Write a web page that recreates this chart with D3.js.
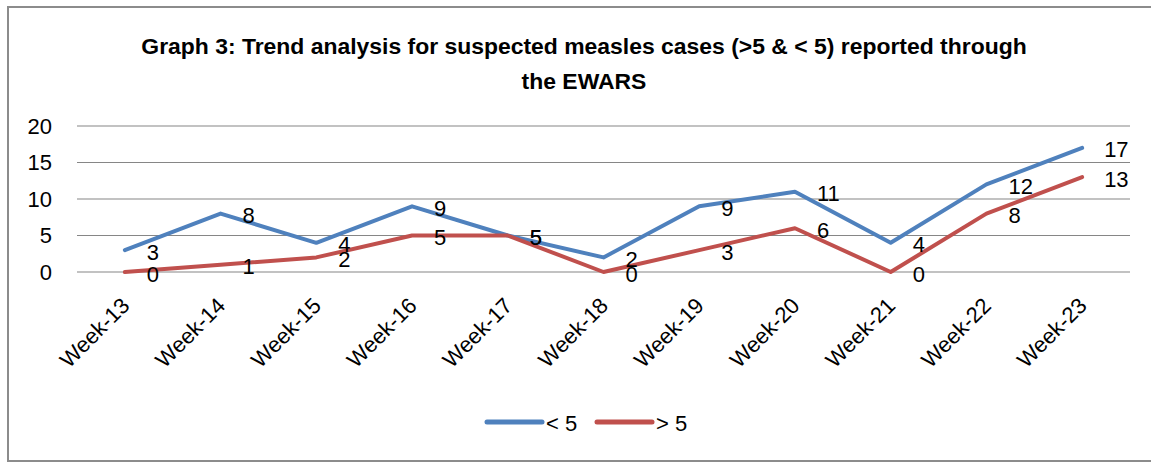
<!DOCTYPE html>
<html>
<head>
<meta charset="utf-8">
<script src="https://cdn.jsdelivr.net/npm/d3@7"></script>
<style>
  body { margin: 0; background: #fff; }
  svg { display: block; font-family: "Liberation Sans", Arial, sans-serif; }
</style>
</head>
<body>
<svg></svg>
<script>
const weeks = ["Week-13", "Week-14", "Week-15", "Week-16", "Week-17", "Week-18", "Week-19", "Week-20", "Week-21", "Week-22", "Week-23"];
const under5 = [3, 8, 4, 9, 5, 2, 9, 11, 4, 12, 17];
const over5 = [0, 1, 2, 5, 5, 0, 3, 6, 0, 8, 13];
const yTicks = [0, 5, 10, 15, 20];
const titleLines = ["Graph 3: Trend analysis for suspected measles cases (>5 & < 5) reported through", "the EWARS"];

const series = [
  { name: "< 5", values: under5, color: "#4F81BD" },
  { name: "> 5", values: over5, color: "#C0504D" }
];

const svg = d3.select("svg").attr("width", 1151).attr("height", 462);

// outer frame
svg.append("rect")
  .attr("x", 8).attr("y", 7).attr("width", 1150).attr("height", 454)
  .attr("fill", "none").attr("stroke", "#8c8c8c").attr("stroke-width", 2);

const plot = { left: 77, right: 1130, top: 126, bottom: 272 };

const x = d3.scalePoint().domain(weeks).range([plot.left, plot.right]).padding(0.5);
const y = d3.scaleLinear().domain([0, 20]).range([plot.bottom, plot.top]);

// title
const title = svg.append("text")
  .attr("text-anchor", "middle")
  .attr("font-weight", "bold")
  .attr("fill", "#000");
title.selectAll("tspan").data(titleLines).enter().append("tspan")
  .attr("x", 584).attr("y", (_, i) => 54 + i * 35)
  .attr("font-size", 20)
  .text(d => d);
// squeeze to a Calibri-like width
const firstLine = title.select("tspan").node();
const w = firstLine.getComputedTextLength();
const fs = 20 * 886 / w;
title.selectAll("tspan").attr("font-size", fs);

// gridlines
svg.append("g").selectAll("line").data(yTicks).enter().append("line")
  .attr("x1", plot.left).attr("x2", plot.right)
  .attr("y1", d => y(d)).attr("y2", d => y(d))
  .attr("stroke", "#868686").attr("stroke-width", 1.2);

// y axis labels
svg.append("g").selectAll("text").data(yTicks).enter().append("text")
  .attr("x", 52).attr("y", d => y(d))
  .attr("text-anchor", "end").attr("dominant-baseline", "central")
  .attr("font-size", 22).text(d => d);

// x axis labels
svg.append("g").selectAll("text").data(weeks).enter().append("text")
  .attr("text-anchor", "end")
  .attr("transform", d => `translate(${x(d) + 6}, ${plot.bottom + 35}) rotate(-45)`)
  .attr("font-size", 22).text(d => d);

// lines
const line = d3.line().x((_, i) => x(weeks[i])).y(d => y(d));
svg.append("g").selectAll("path").data(series).enter().append("path")
  .attr("d", d => line(d.values))
  .attr("fill", "none").attr("stroke", d => d.color)
  .attr("stroke-width", 4).attr("stroke-linejoin", "round").attr("stroke-linecap", "round");

// data labels
series.forEach(s => {
  svg.append("g").selectAll("text").data(s.values).enter().append("text")
    .attr("x", (_, i) => x(weeks[i]) + 22)
    .attr("y", (d, i) => y(d) + 2)
    .attr("dominant-baseline", "central")
    .attr("font-size", 22).text(d => d);
});

// legend
const legend = svg.append("g");
const legItems = [{ x: 487 }, { x: 597 }];
series.forEach((s, i) => {
  const lx = legItems[i].x;
  legend.append("line")
    .attr("x1", lx).attr("x2", lx + 55).attr("y1", 422).attr("y2", 422)
    .attr("stroke", s.color).attr("stroke-width", 5).attr("stroke-linecap", "round");
  legend.append("text")
    .attr("x", lx + 59).attr("y", 423).attr("dominant-baseline", "central")
    .attr("font-size", 22).text(s.name);
});
</script>
</body>
</html>
